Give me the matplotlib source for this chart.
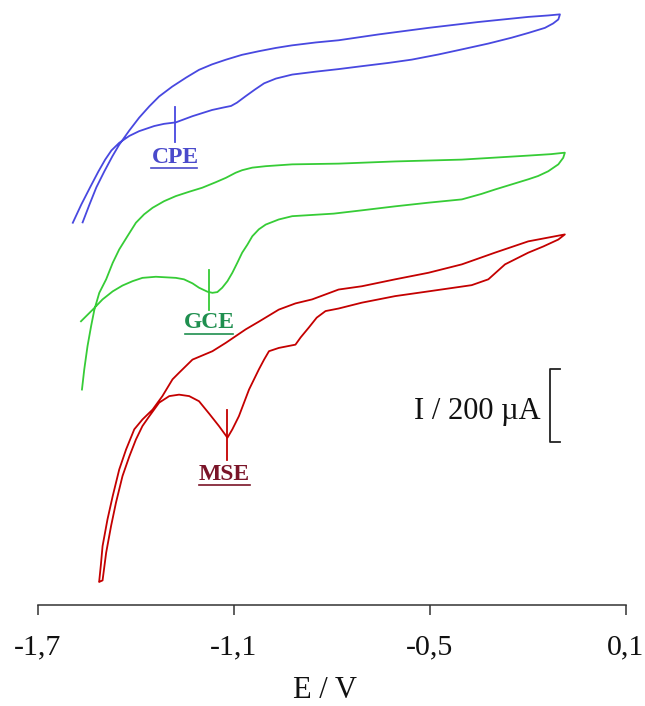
import matplotlib
matplotlib.use("Agg")
import matplotlib.pyplot as plt

plt.rcParams['font.family'] = ['Liberation Serif', 'DejaVu Serif']

# Cyclic voltammograms (E in V, I in uA, curves offset vertically)
# CPE: branch from the negative end up to the vertex, then the return branch
cpe_E_up = [-1.562, -1.541, -1.520, -1.496, -1.471, -1.450, -1.419, -1.389, -1.358,
            -1.328, -1.288, -1.245, -1.206, -1.166, -1.123, -1.075, -1.023, -0.971,
            -0.922, -0.849, -0.779, -0.657, -0.504, -0.352, -0.199, -0.138, -0.102]
cpe_I_up = [1047, 1096, 1143, 1186, 1228, 1260, 1299, 1334, 1365,
            1392, 1419, 1444, 1465, 1480, 1493, 1506, 1516, 1525,
            1532, 1540, 1546, 1562, 1580, 1596, 1610, 1614, 1617]
cpe_E_dn = [-0.107, -0.123, -0.148, -0.199, -0.250, -0.321, -0.402, -0.474, -0.555,
            -0.626, -0.708, -0.779, -0.849, -0.921, -0.971, -1.007, -1.035, -1.063,
            -1.090, -1.108, -1.130, -1.166, -1.226, -1.277, -1.313, -1.343, -1.389,
            -1.419, -1.450, -1.474, -1.493, -1.514, -1.538, -1.566, -1.592]
cpe_I_dn = [1603, 1592, 1580, 1566, 1553, 1537, 1521, 1507, 1493,
            1484, 1475, 1467, 1460, 1452, 1441, 1428, 1411, 1393,
            1375, 1366, 1362, 1355, 1338, 1321, 1317, 1311, 1297,
            1284, 1265, 1244, 1219, 1186, 1145, 1096, 1046]

# GCE
gce_E_up = [-1.564, -1.557, -1.547, -1.536, -1.526, -1.511, -1.490, -1.470, -1.450,
            -1.425, -1.399, -1.374, -1.348, -1.313, -1.277, -1.236, -1.196, -1.155,
            -1.124, -1.094, -1.074, -1.043, -1.002, -0.921, -0.779, -0.606, -0.402,
            -0.199, -0.129, -0.087]
gce_I_up = [589, 644, 708, 763, 808, 854, 891, 936, 973,
            1009, 1046, 1069, 1087, 1105, 1119, 1131, 1142, 1157,
            1169, 1183, 1190, 1197, 1201, 1206, 1208, 1214, 1219,
            1230, 1234, 1238]
gce_E_dn = [-0.092, -0.107, -0.138, -0.169, -0.199, -0.250, -0.301, -0.342, -0.402,
            -0.504, -0.606, -0.708, -0.794, -0.921, -0.962, -1.002, -1.023, -1.043,
            -1.058, -1.074, -1.089, -1.104, -1.119, -1.135, -1.150, -1.165, -1.180,
            -1.206, -1.226, -1.252, -1.277, -1.338, -1.379, -1.409, -1.440, -1.470,
            -1.501, -1.531, -1.567]
gce_I_dn = [1224, 1206, 1187, 1174, 1165, 1151, 1137, 1125, 1110,
            1101, 1091, 1080, 1071, 1064, 1055, 1041, 1028, 1009,
            986, 964, 936, 909, 886, 868, 856, 854, 857,
            868, 880, 891, 895, 898, 895, 886, 874, 858,
            836, 808, 776]

# MSE (closed loop at the negative end)
mse_E_up = [-1.511, -1.506, -1.501, -1.486, -1.470, -1.450, -1.429, -1.404, -1.379,
            -1.348, -1.318, -1.287, -1.267, -1.226, -1.165, -1.124, -1.063, -1.023,
            -0.962, -0.911, -0.860, -0.779, -0.708, -0.606, -0.504, -0.402, -0.301,
            -0.199, -0.087]
mse_I_up = [66, 110, 160, 233, 297, 370, 425, 480, 507,
            534, 571, 617, 635, 671, 694, 717, 754, 775,
            808, 825, 836, 863, 872, 891, 909, 932, 964,
            995, 1014]
mse_E_dn = [-0.107, -0.153, -0.199, -0.270, -0.321, -0.372, -0.504, -0.606, -0.708,
            -0.779, -0.819, -0.846, -0.870, -0.895, -0.911, -0.962, -0.992, -1.007,
            -1.023, -1.053, -1.084, -1.104, -1.119, -1.145, -1.175, -1.206, -1.236,
            -1.267, -1.297, -1.328, -1.358, -1.379, -1.399, -1.419, -1.440, -1.460,
            -1.475, -1.490, -1.501, -1.511]
mse_I_dn = [1000, 981, 964, 932, 891, 875, 858, 845, 827,
            811, 804, 786, 759, 732, 712, 703, 694, 671,
            644, 589, 516, 480, 457, 489, 523, 557, 571,
            575, 571, 553, 516, 489, 452, 406, 352, 279,
            215, 142, 66, 62]

# Peak markers: potential, lower/upper current of the marker tick
peak_names = ["CPE", "GCE", "MSE"]
peak_E = [-1.279, -1.175, -1.119]
peak_I_lo = [1266, 806, 397]
peak_I_hi = [1362, 916, 532]
label_E = [-1.279, -1.175, -1.129]
label_I = [1225, 773, 356]
underline_E0 = [-1.352, -1.248, -1.206]
underline_E1 = [-1.212, -1.102, -1.051]
underline_I = [1197, 742, 327]

curve_colors = ["#4848e0", "#36cc36", "#c40000"]
label_colors = ["#4a4acb", "#1f8f4f", "#7a1428"]

# Current scale bar
bar_E = -0.133
bar_I0, bar_I1 = 444, 644
bar_label = "I / 200 µA"

x_ticks = [-1.7, -1.1, -0.5, 0.1]
x_ticklabels = ["-1,7", "-1,1", "-0,5", "0,1"]

fig = plt.figure(figsize=(6.45, 7.06), dpi=100)
ax = fig.add_axes([37.5 / 645, 101.5 / 706, 588.5 / 645, 1 - 101.5 / 706])
ax.set_xlim(-1.7, 0.1)
ax.set_ylim(0, 604.5 * 2.74)

curves = [
    (cpe_E_up + cpe_E_dn, cpe_I_up + cpe_I_dn),
    (gce_E_up + gce_E_dn, gce_I_up + gce_I_dn),
    (mse_E_up + mse_E_dn, mse_I_up + mse_I_dn),
]
for (E, I), c in zip(curves, curve_colors):
    ax.plot(E, I, color=c, lw=1.3, solid_joinstyle='round')

for k in range(3):
    ax.plot([peak_E[k], peak_E[k]], [peak_I_lo[k], peak_I_hi[k]],
            color=curve_colors[k], lw=1.3)
    ax.text(label_E[k], label_I[k], peak_names[k], color=label_colors[k],
            fontsize=17, fontweight='bold', ha='center', va='center')
    ax.plot([underline_E0[k], underline_E1[k]], [underline_I[k], underline_I[k]],
            color=label_colors[k], lw=1.2)

# scale bar bracket
ax.plot([bar_E + 0.031, bar_E, bar_E, bar_E + 0.031],
        [bar_I1, bar_I1, bar_I0, bar_I0], color="#222222", lw=1.3)
ax.text(bar_E - 0.027, (bar_I0 + bar_I1) / 2 - 14, bar_label, fontsize=22,
        ha='right', va='center', color="#111111")

for s in ["left", "right", "top"]:
    ax.spines[s].set_visible(False)
ax.spines["bottom"].set_color("#333333")
ax.spines["bottom"].set_linewidth(1.1)
ax.set_yticks([])
ax.set_xticks(x_ticks)
ax.set_xticklabels(x_ticklabels)
ax.tick_params(axis='x', direction='out', length=7.2, width=1.1, color="#333333",
               labelsize=21.5, pad=14, labelcolor="#111111")

fig.text(325 / 645, 1 - 691 / 706, "E / V", fontsize=22, ha='center', va='center',
         color="#111111")

fig.savefig("out.png", dpi=100)
